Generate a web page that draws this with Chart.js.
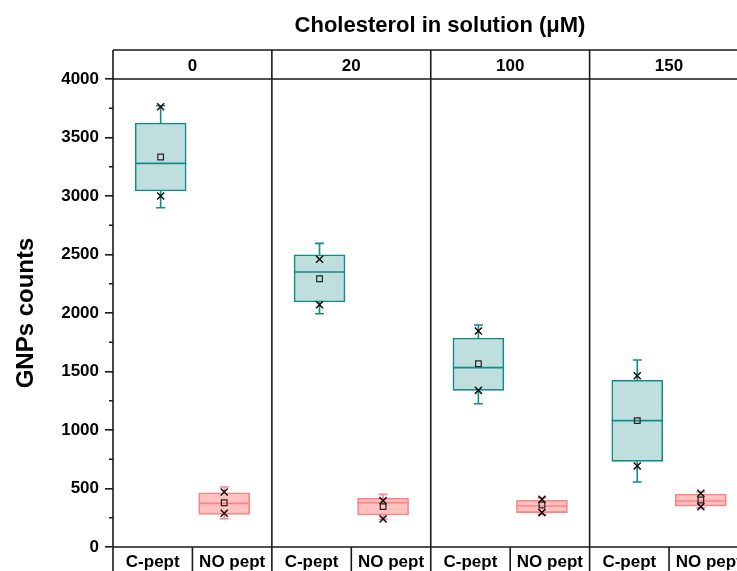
<!DOCTYPE html>
<html>
<head>
<meta charset="utf-8">
<script src="https://cdn.jsdelivr.net/npm/chart.js@4.4.1/dist/chart.umd.min.js"></script>
<style>
  body { margin: 0; background: #fff; overflow: hidden; }
  canvas { display: block; }
</style>
</head>
<body>
<canvas id="myChart" width="737" height="571"></canvas>
<script>
// panels (cholesterol, uM) and groups inside each panel
const panels = ["0", "20", "100", "150"];
const groups = ["C-pept", "NO pept"];

// order: C0, NO0, C20, NO20, C100, NO100, C150, NO150
const q1     = [3043, 279, 2094, 274, 1339, 294,  732, 350];
const q3     = [3624, 464, 2498, 416, 1786, 399, 1425, 453];
const median = [3279, 373, 2350, 379, 1533, 350, 1080, 393];
const mean   = [3333, 378, 2293, 345, 1567, 359, 1080, 402];
const whiskLo = [2900, 242, 1994, 237, 1225, 279,  556, 336];
const whiskHi = [3772, 513, 2595, 450, 1897, 421, 1598, 470];
const minPt  = [3000, 288, 2071, 240, 1339, 294,  692, 345];
const maxPt  = [3763, 470, 2459, 396, 1846, 407, 1464, 459];

const yTicks = [0, 500, 1000, 1500, 2000, 2500, 3000, 3500, 4000];

const slotOffset = [0.3, 0.7];
const panelW = 159; // px per panel
const boxW = 51;
const FONT = "'Liberation Sans', Arial, sans-serif";
const teal = { fill: "#bfdfdf", line: "#13898a" };
const pink = { fill: "#ffc0c0", line: "#fa8585" };
const ink = "#1a1a1a";

const xPos = panels.flatMap((p, i) => groups.map((g, j) => i + slotOffset[j]));
const colOf = (k) => (k % 2 === 0 ? teal : pink);

const boxPlot = {
  id: "boxPlot",
  afterDatasetDraw(chart, args) {
    if (args.index !== 0) return;
    const { ctx, scales: { x, y } } = chart;
    ctx.save();
    xPos.forEach((xv, k) => {
      const cx = x.getPixelForValue(xv);
      const c = colOf(k);
      ctx.strokeStyle = c.line;
      ctx.lineWidth = 1.6;
      ctx.beginPath();
      // whiskers + caps
      ctx.moveTo(cx, y.getPixelForValue(q3[k]));
      ctx.lineTo(cx, y.getPixelForValue(whiskHi[k]));
      ctx.moveTo(cx - 4.5, y.getPixelForValue(whiskHi[k]));
      ctx.lineTo(cx + 4.5, y.getPixelForValue(whiskHi[k]));
      ctx.moveTo(cx, y.getPixelForValue(q1[k]));
      ctx.lineTo(cx, y.getPixelForValue(whiskLo[k]));
      ctx.moveTo(cx - 4.5, y.getPixelForValue(whiskLo[k]));
      ctx.lineTo(cx + 4.5, y.getPixelForValue(whiskLo[k]));
      // median
      ctx.moveTo(cx - boxW / 2, y.getPixelForValue(median[k]));
      ctx.lineTo(cx + boxW / 2, y.getPixelForValue(median[k]));
      ctx.stroke();
    });
    ctx.restore();
  },
  afterDraw(chart) {
    const { ctx, chartArea: a, scales: { x, y } } = chart;
    const top = 50, bot = chart.height, right = chart.width;
    ctx.save();
    ctx.strokeStyle = ink;
    ctx.lineWidth = 1.6;
    ctx.beginPath();
    // header row and axis lines
    ctx.moveTo(a.left, top); ctx.lineTo(right, top);
    ctx.moveTo(a.left, a.top); ctx.lineTo(right, a.top);
    ctx.moveTo(a.left, a.bottom); ctx.lineTo(right, a.bottom);
    ctx.moveTo(a.left, top); ctx.lineTo(a.left, bot);
    panels.forEach((p, i) => {
      const px = x.getPixelForValue(i);
      const mid = x.getPixelForValue(i + 0.5);
      ctx.moveTo(px, top); ctx.lineTo(px, bot);
      ctx.moveTo(mid, a.bottom); ctx.lineTo(mid, bot);
    });
    // minor ticks
    for (let v = 250; v < 4000; v += 500) {
      const py = y.getPixelForValue(v);
      ctx.moveTo(a.left - 4, py); ctx.lineTo(a.left, py);
    }
    ctx.stroke();

    ctx.fillStyle = "#000";
    ctx.textAlign = "center";
    ctx.textBaseline = "alphabetic";
    ctx.font = "bold 22px " + FONT;
    ctx.fillText("Cholesterol in solution (\u03bcM)", 440, 32);
    ctx.font = "bold 17px " + FONT;
    panels.forEach((p, i) => {
      ctx.fillText(p, x.getPixelForValue(i + 0.5), 71);
      groups.forEach((g, j) => {
        ctx.fillText(g, x.getPixelForValue(i + 0.25 + 0.5 * j), 567);
      });
    });
    ctx.restore();
  }
};

const myChart = new Chart(document.getElementById("myChart"), {
  type: "bar",
  data: {
    datasets: [
      {
        type: "bar",
        order: 3,
        data: xPos.map((xv, k) => ({ x: xv, y: [q1[k], q3[k]] })),
        backgroundColor: (ctx) => colOf(ctx.dataIndex).fill,
        borderColor: (ctx) => colOf(ctx.dataIndex).line,
        borderWidth: 1.6,
        borderSkipped: false,
        barThickness: boxW,
        grouped: false,
      },
      {
        type: "scatter",
        order: 1,
        data: xPos.map((xv, k) => ({ x: xv, y: mean[k] })),
        pointStyle: "rect",
        pointRadius: 4,
        backgroundColor: "transparent",
        borderColor: "#222",
        borderWidth: 1.2,
      },
      {
        type: "scatter",
        order: 0,
        data: xPos.flatMap((xv, k) => [{ x: xv, y: minPt[k] }, { x: xv, y: maxPt[k] }]),
        pointStyle: "crossRot",
        pointRadius: 5,
        borderColor: "#111",
        borderWidth: 1.5,
      },
    ],
  },
  options: {
    responsive: false,
    animation: false,
    layout: { padding: { top: 79, bottom: 24, left: 0, right: 0 } },
    plugins: {
      legend: { display: false },
      tooltip: { enabled: false },
    },
    scales: {
      x: {
        type: "linear",
        display: false,
        min: 0,
        max: 618 / panelW, // chart area is 113..731 (points reserve ~6px on the right)
        offset: false,
      },
      y: {
        min: 0,
        max: 4000,
        afterFit: (scale) => { scale.width = 113; },
        afterBuildTicks: (scale) => { scale.ticks = yTicks.map((v) => ({ value: v })); },
        ticks: {
          color: "#000",
          padding: 6,
          font: { family: FONT, size: 17, weight: "bold" },
          callback: (v) => String(v),
        },
        grid: {
          drawOnChartArea: false,
          tickLength: 8,
          tickColor: ink,
          lineWidth: 1.6,
        },
        border: { display: false },
        title: {
          display: true,
          text: "GNPs counts",
          color: "#000",
          padding: { top: 12, bottom: 0 },
          font: { family: FONT, size: 24, weight: "bold" },
        },
      },
    },
  },
  plugins: [boxPlot],
});
</script>
</body>
</html>
